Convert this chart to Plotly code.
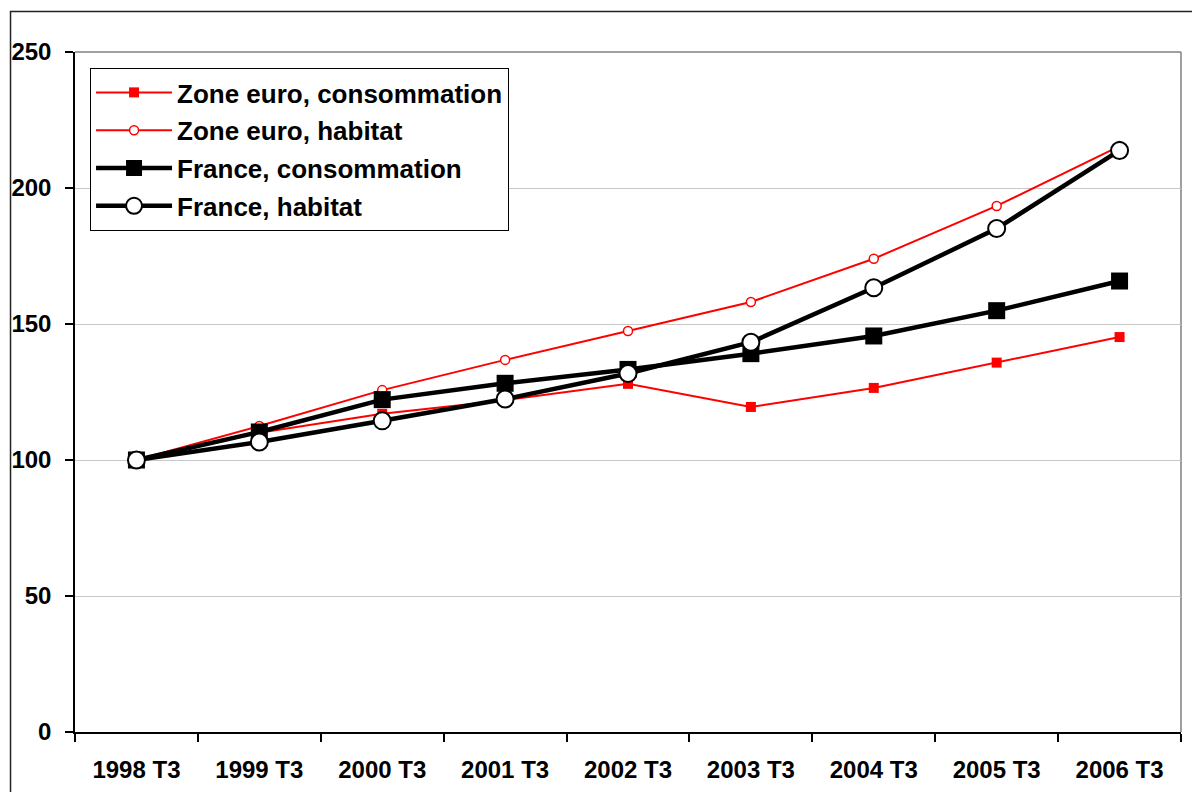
import plotly.graph_objects as go

# Trimestres (indice base 100 en 1998 T3)
periodes = ["1998 T3", "1999 T3", "2000 T3", "2001 T3", "2002 T3",
            "2003 T3", "2004 T3", "2005 T3", "2006 T3"]

zone_euro_conso = [100, 110, 117, 122, 128, 119.5, 126.5, 135.8, 145.2]
zone_euro_habitat = [100, 112.5, 125.7, 136.8, 147.4, 158.1, 174, 193.4, 215.4]
france_conso = [100, 110.3, 122.2, 128.2, 133.3, 139.1, 145.6, 154.9, 165.8]
france_habitat = [100, 106.6, 114.4, 122.4, 131.8, 143.3, 163.3, 185.1, 213.8]

FONT = "Liberation Sans, Arial, sans-serif"

fig = go.Figure()

fig.add_trace(go.Scatter(
    x=periodes, y=zone_euro_conso, name="Zone euro, consommation",
    mode="lines+markers", legendgroup="a",
    line=dict(color="#ff0000", width=2),
    marker=dict(symbol="square", size=10, color="#ff0000"),
))
fig.add_trace(go.Scatter(
    x=periodes, y=zone_euro_habitat, name="Zone euro, habitat",
    mode="lines+markers", legendgroup="b",
    line=dict(color="#ff0000", width=2),
    marker=dict(symbol="circle", size=9, color="white",
                line=dict(color="#ff0000", width=1.5)),
))
fig.add_trace(go.Scatter(
    x=periodes, y=france_conso, name="France, consommation",
    mode="lines+markers", legendgroup="c",
    line=dict(color="#000000", width=4.5),
    marker=dict(symbol="square", size=17, color="#000000"),
))
fig.add_trace(go.Scatter(
    x=periodes, y=france_habitat, name="France, habitat",
    mode="lines+markers", legendgroup="d",
    line=dict(color="#000000", width=4.5),
    marker=dict(symbol="circle", size=17, color="white",
                line=dict(color="#000000", width=2)),
))

fig.update_layout(
    template="none",
    width=1192, height=792,
    margin=dict(l=75, r=11, t=52, b=60, autoexpand=False),
    paper_bgcolor="white", plot_bgcolor="white",
    font=dict(family=FONT, size=24, color="black", weight="bold"),
    showlegend=True,
    legend=dict(
        x=0.0136, y=0.9765, xanchor="left", yanchor="top",
        bordercolor="black", borderwidth=1, bgcolor="white",
        font=dict(family=FONT, size=26, color="black", weight="bold"),
        tracegroupgap=1, itemwidth=76,
    ),
    xaxis=dict(
        type="category", range=[-0.5, 8.5], automargin=False,
        showline=True, linecolor="black", linewidth=1.5,
        ticks="outside", tickson="boundaries", ticklen=8,
        tickcolor="black", tickwidth=1.5,
        showgrid=False, zeroline=False, ticklabelstandoff=15,
        tickfont=dict(family=FONT, size=24, color="black", weight="bold"),
    ),
    yaxis=dict(
        range=[0, 250], dtick=50, tick0=0, automargin=False,
        showline=True, linecolor="black", linewidth=1.5,
        ticks="outside", ticklen=8, tickcolor="black", tickwidth=1.5,
        showgrid=True, gridcolor="#c8c8c8", gridwidth=1,
        zeroline=False, ticklabelstandoff=9,
        tickfont=dict(family=FONT, size=24, color="black", weight="bold"),
    ),
    shapes=[
        # bordure haute et droite de la zone de tracé
        dict(type="line", xref="paper", yref="paper", x0=0, x1=1, y0=1, y1=1,
             line=dict(color="#808080", width=1.5), layer="below"),
        dict(type="line", xref="paper", yref="paper", x0=1, x1=1, y0=0, y1=1,
             line=dict(color="#808080", width=1.5), layer="below"),
        # cadre du graphique
        dict(type="rect", xref="paper", yref="paper",
             x0=-0.0583, x1=1.02, y0=-0.1, y1=1.0596,
             line=dict(color="#222222", width=1.5), fillcolor="rgba(0,0,0,0)"),
    ],
)

fig.write_html("out.html")
